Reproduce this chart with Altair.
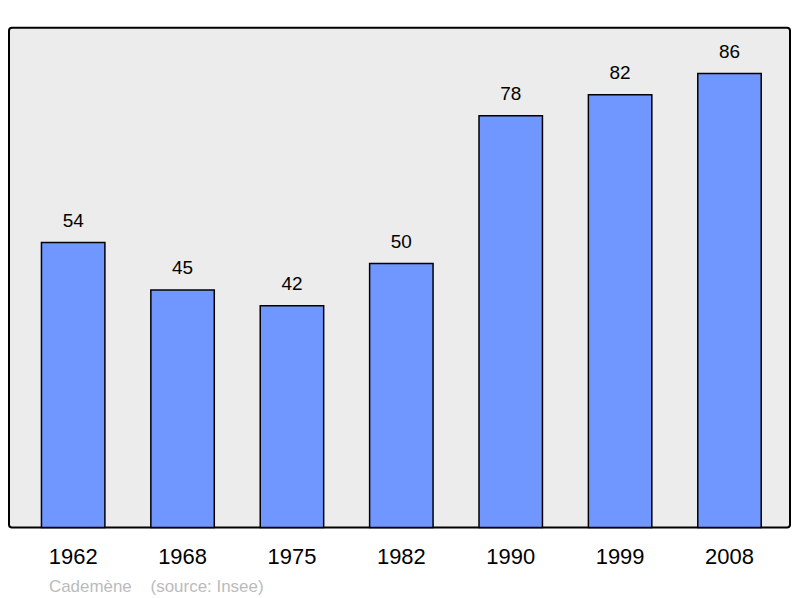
import altair as alt
import pandas as pd

years = ["1962", "1968", "1975", "1982", "1990", "1999", "2008"]
population = [54, 45, 42, 50, 78, 82, 86]

df = pd.DataFrame({"year": years, "pop": population})

base = alt.Chart(df).encode(
    x=alt.X("year:N", sort=None, title=None,
            scale=alt.Scale(paddingInner=0.42, paddingOuter=0.28, align=0.53),
            axis=alt.Axis(labelAngle=0, domain=False, ticks=False, labelPadding=19,
                          labelFontSize=22, labelColor="#000000", labelFont="Liberation Sans")),
    y=alt.Y("pop:Q", title=None, scale=alt.Scale(domain=[0, 94.7], nice=False, zero=True),
            axis=None),
)

bars = base.mark_bar(color="#7096ff", stroke="#000000", strokeWidth=1.5)

labels = base.mark_text(baseline="bottom", dy=-12, fontSize=19, font="Liberation Sans",
                        color="#000000").encode(text="pop:Q")

chart = (bars + labels).properties(
    width=783,
    height=501,
    background="#ffffff",
    autosize=alt.AutoSizeParams(type="none"),
    padding={"left": 1, "top": 19, "right": 2, "bottom": 70},
    title=alt.TitleParams("Cademène\u00a0\u00a0\u00a0\u00a0(source: Insee)", orient="bottom",
                          anchor="start", dx=40, offset=12, fontSize=17, fontWeight="normal",
                          color="#bbbbbb", font="Liberation Sans"),
).configure_view(
    fill="#ececec", stroke="#000000", strokeWidth=2, cornerRadius=3
)

chart.save("out.html", embed_options={"renderer": "svg", "actions": False})
